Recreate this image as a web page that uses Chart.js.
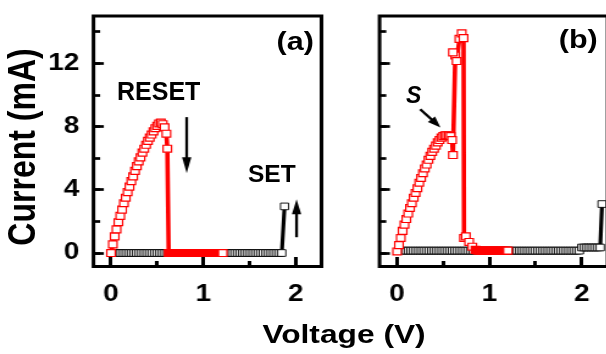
<!DOCTYPE html>
<html><head><meta charset="utf-8">
<script src="https://cdn.jsdelivr.net/npm/chart.js@4.4.1/dist/chart.umd.min.js"></script>
<style>
html,body{margin:0;padding:0;width:606px;height:354px;overflow:hidden;background:#fff;}
#stage{position:absolute;left:0;top:0;width:520px;height:354px;transform:scaleX(1.22);transform-origin:0 0;}
#ca{position:absolute;left:0;top:0;}
#cb{position:absolute;left:302px;top:0;}
.t{position:absolute;font-family:"Liberation Sans",Arial,sans-serif;font-weight:bold;color:#000;white-space:nowrap;line-height:1;}
#ytitle{font-size:32px;width:240px;height:32px;left:-102px;top:131px;text-align:center;transform:rotate(-90deg);transform-origin:50% 50%;}
#xtitle{font-size:26px;width:200px;left:182px;top:321px;text-align:center;}
#la{font-size:25px;width:60px;left:212px;top:29px;text-align:center;}
#lb{font-size:25px;width:60px;left:444px;top:27px;text-align:center;}
#reset{font-size:25px;left:117px;top:79px;}
#set{font-size:24.5px;left:248px;top:162px;}
#s{font-size:23px;font-style:italic;left:406px;top:84px;}
</style></head>
<body>
<div id="stage">
  <canvas id="ca" width="272" height="354"></canvas>
  <canvas id="cb" width="210" height="354"></canvas>
  <div class="t" id="ytitle">Current (mA)</div>
  <div class="t" id="xtitle">Voltage (V)</div>
  <div class="t" id="la">(a)</div>
  <div class="t" id="lb">(b)</div>
</div>
<div class="t" id="reset">RESET</div>
<div class="t" id="set">SET</div>
<div class="t" id="s">S</div>
<script>
// ---------------- data (Voltage in V, Current in mA) ----------------
// Panel (a) — RESET sweep (red)
const resetV_a = [0.00,0.02,0.04,0.06,0.08,0.10,0.12,0.14,0.16,0.18,0.20,0.22,0.24,0.26,0.28,0.30,0.32,0.34,0.36,0.38,0.40,0.42,0.44,0.46,0.48,0.50,0.52,0.54,0.56,0.58,0.60,0.61,0.625,0.65,0.675,0.70,0.725,0.75,0.775,0.80,0.825,0.85,0.875,0.90,0.925,0.95,0.975,1.00,1.025,1.05,1.075,1.10,1.125,1.15,1.175,1.21];
const resetI_a = [0.00,0.55,1.05,1.50,1.95,2.35,2.75,3.15,3.50,3.85,4.20,4.55,4.85,5.20,5.50,5.80,6.05,6.35,6.60,6.85,7.10,7.30,7.50,7.70,7.90,8.05,8.20,8.25,8.15,7.95,7.55,6.60,0.00,0.00,0.00,0.00,0.00,0.00,0.00,0.00,0.00,0.00,0.00,0.00,0.00,0.00,0.00,0.00,0.00,0.00,0.00,0.00,0.00,0.00,0.00,0.00];
// Panel (a) — SET sweep (black)
const setV_a = [0.050,0.075,0.100,0.125,0.150,0.175,0.200,0.225,0.250,0.275,0.300,0.325,0.350,0.375,0.400,0.425,0.450,0.475,0.500,0.525,0.550,0.575,0.600,0.625,0.650,0.675,0.700,0.725,0.750,0.775,0.800,0.825,0.850,0.875,0.900,0.925,0.950,0.975,1.000,1.025,1.050,1.075,1.100,1.125,1.150,1.175,1.200,1.225,1.250,1.275,1.300,1.325,1.350,1.375,1.400,1.425,1.450,1.475,1.500,1.525,1.550,1.575,1.600,1.625,1.650,1.675,1.700,1.725,1.750,1.775,1.800,1.825,1.850,1.880];
const setI_a = [0,0,0,0,0,0,0,0,0,0,0,0,0,0,0,0,0,0,0,0,0,0,0,0,0,0,0,0,0,0,0,0,0,0,0,0,0,0,0,0,0,0,0,0,0,0,0,0,0,0,0,0,0,0,0,0,0,0,0,0,0,0,0,0,0,0,0,0,0,0,0,0,0,2.95];
// Panel (b) — RESET sweep (red)
const resetV_b = [0.00,0.02,0.04,0.06,0.08,0.10,0.12,0.14,0.16,0.18,0.20,0.22,0.24,0.26,0.28,0.30,0.32,0.34,0.36,0.38,0.40,0.42,0.44,0.46,0.48,0.50,0.52,0.54,0.56,0.58,0.595,0.605,0.63,0.605,0.645,0.675,0.70,0.72,0.725,0.745,0.78,0.815,0.85,0.875,0.90,0.925,0.95,0.975,1.00,1.025,1.05,1.075,1.10,1.125,1.15,1.175,1.20];
const resetI_b = [0.10,0.50,0.95,1.40,1.80,2.15,2.50,2.85,3.15,3.50,3.80,4.10,4.45,4.75,5.05,5.35,5.60,5.90,6.15,6.40,6.60,6.80,7.00,7.15,7.30,7.40,7.45,7.45,7.45,7.40,7.15,6.20,12.50,12.70,12.15,13.55,13.90,13.60,0.95,1.05,0.70,0.40,0.20,0.15,0.15,0.15,0.15,0.15,0.15,0.15,0.15,0.15,0.15,0.15,0.15,0.15,0.15];
// Panel (b) — SET sweep (black)
const setV_b = [0.050,0.075,0.100,0.125,0.150,0.175,0.200,0.225,0.250,0.275,0.300,0.325,0.350,0.375,0.400,0.425,0.450,0.475,0.500,0.525,0.550,0.575,0.600,0.625,0.650,0.675,0.700,0.725,0.750,0.775,0.800,0.825,0.850,0.875,0.900,0.925,0.950,0.975,1.000,1.025,1.050,1.075,1.100,1.125,1.150,1.175,1.200,1.225,1.250,1.275,1.300,1.325,1.350,1.375,1.400,1.425,1.450,1.475,1.500,1.525,1.550,1.575,1.600,1.625,1.650,1.675,1.700,1.725,1.750,1.775,1.800,1.825,1.850,1.875,1.900,1.925,1.950,1.975,2.000,2.025,2.050,2.075,2.100,2.125,2.150,2.175,2.200,2.220];
const setI_b = [0.15,0.15,0.15,0.15,0.15,0.15,0.15,0.15,0.15,0.15,0.15,0.15,0.15,0.15,0.15,0.15,0.15,0.15,0.15,0.15,0.15,0.15,0.15,0.15,0.15,0.15,0.15,0.15,0.15,0.15,0.15,0.15,0.15,0.15,0.15,0.15,0.15,0.15,0.15,0.15,0.15,0.15,0.15,0.15,0.15,0.15,0.15,0.15,0.15,0.15,0.15,0.15,0.15,0.15,0.15,0.15,0.15,0.15,0.15,0.15,0.15,0.15,0.15,0.15,0.15,0.15,0.15,0.15,0.15,0.15,0.15,0.15,0.15,0.15,0.15,0.15,0.15,0.15,0.35,0.35,0.35,0.35,0.35,0.35,0.35,0.35,0.35,3.10];
// Axis ranges / ticks
const xRange = [-0.19, 2.28];
const yRange = [-0.853, 15.0];
const xMajorStep = 1, xMinorStep = 0.5;
const yMajorStep = 4, yMinorStep = 2;

// ---------------- helpers ----------------
const RED = '#ff0000', BLK = '#000000';
const FONT = '"Liberation Sans", Arial, sans-serif';
Chart.defaults.font.family = FONT;
const pts = (xs, ys) => xs.map((v, i) => ({x: v, y: ys[i]}));

const framePlugin = {
  id: 'frame',
  afterDatasetsDraw(chart) {
    const {ctx, chartArea: a} = chart;
    ctx.save();
    ctx.lineWidth = 3; ctx.strokeStyle = BLK;
    ctx.strokeRect(a.left, a.top, a.right - a.left, a.bottom - a.top);
    ctx.restore();
  }
};
const arrowPlugin = {
  id: 'arrows',
  afterDatasetsDraw(chart, args, opts) {
    const {ctx} = chart; const xs = chart.scales.x, ys = chart.scales.y;
    (opts.list || []).forEach(a => {
      const x1 = xs.getPixelForValue(a.from[0]), y1 = ys.getPixelForValue(a.from[1]);
      const x2 = xs.getPixelForValue(a.to[0]), y2 = ys.getPixelForValue(a.to[1]);
      const ang = Math.atan2(y2 - y1, x2 - x1);
      const L = a.head, W = a.half;
      const bx = x2 - L * Math.cos(ang), by = y2 - L * Math.sin(ang);
      ctx.save();
      ctx.strokeStyle = BLK; ctx.fillStyle = BLK; ctx.lineWidth = a.lw;
      ctx.beginPath(); ctx.moveTo(x1, y1); ctx.lineTo(bx + 2 * Math.cos(ang), by + 2 * Math.sin(ang)); ctx.stroke();
      ctx.beginPath(); ctx.moveTo(x2, y2);
      ctx.lineTo(bx + W * Math.sin(ang), by - W * Math.cos(ang));
      ctx.lineTo(bx - W * Math.sin(ang), by + W * Math.cos(ang));
      ctx.closePath(); ctx.fill();
      ctx.restore();
    });
  }
};

function redFill(ctx) {
  const r = ctx.raw;
  if (!r) return '#fff';
  const last = ctx.dataIndex === ctx.dataset.data.length - 1;
  return (r.y < 0.3 && r.x > 0.6 && !last) ? RED : '#fff';
}

function fitX(h) { return s => { s.height = h; s.paddingLeft = 0; s.paddingRight = 0; }; }
function fitY(w) { return s => { s.width = w; s.paddingTop = 0; s.paddingBottom = 0; }; }

function makeScales(showLabels, yWidth) {
  const tickFont = {family: FONT, size: 23, weight: 'bold'};
  return {
    x: {
      type: 'linear', position: 'bottom', min: xRange[0], max: xRange[1], weight: 1,
      ticks: {stepSize: xMajorStep, includeBounds: false, autoSkip: false, padding: 24, color: BLK, font: tickFont},
      grid: {drawOnChartArea: false, drawTicks: true, tickLength: -9.5, tickWidth: 3, tickColor: BLK},
      border: {display: false},
      afterFit: fitX(87.5)
    },
    x2: {
      type: 'linear', position: 'bottom', min: xRange[0], max: xRange[1], weight: 0,
      ticks: {stepSize: xMinorStep, includeBounds: false, display: false},
      grid: {drawOnChartArea: false, drawTicks: true, tickLength: -5.5, tickWidth: 3, tickColor: BLK},
      border: {display: false},
      afterFit: fitX(0)
    },
    y: {
      type: 'linear', position: 'left', min: yRange[0], max: yRange[1], weight: 1,
      ticks: {stepSize: yMajorStep, includeBounds: false, autoSkip: false, display: showLabels, padding: 20, color: BLK, font: tickFont},
      grid: {drawOnChartArea: false, drawTicks: true, tickLength: -8.5, tickWidth: 2.7, tickColor: BLK},
      border: {display: false},
      afterFit: fitY(yWidth)
    },
    y2: {
      type: 'linear', position: 'left', min: yRange[0], max: yRange[1], weight: 0,
      ticks: {stepSize: yMinorStep, includeBounds: false, display: false},
      grid: {drawOnChartArea: false, drawTicks: true, tickLength: -5.5, tickWidth: 2.7, tickColor: BLK},
      border: {display: false},
      afterFit: fitY(0)
    }
  };
}

function datasets(rv, ri, sv, si) {
  return [
    {label: 'RESET', data: pts(rv, ri), showLine: true, borderColor: RED, borderWidth: 3.6,
     borderJoinStyle: 'round', borderCapStyle: 'round',
     pointStyle: 'rect', pointRadius: 4.9, pointBorderColor: RED, pointBorderWidth: 1.2,
     pointBackgroundColor: redFill, tension: 0},
    {label: 'SET', data: pts(sv, si), showLine: true, borderColor: BLK, borderWidth: 3.2,
     borderJoinStyle: 'round',
     pointStyle: 'rect', pointRadius: 4.7, pointBorderColor: BLK, pointBorderWidth: 0.9,
     pointBackgroundColor: '#fff', tension: 0}
  ];
}

const baseOpts = {responsive: false, animation: false, devicePixelRatio: 1, events: []};

new Chart(document.getElementById('ca'), {
  type: 'scatter',
  data: {datasets: datasets(resetV_a, resetI_a, setV_a, setI_a)},
  options: Object.assign({}, baseOpts, {
    layout: {padding: {top: 16, right: 8.5, left: 0, bottom: 0}},
    plugins: {
      legend: {display: false}, tooltip: {enabled: false},
      arrows: {list: [
        {from: [0.82, 8.6], to: [0.82, 5.05], head: 16, half: 3.8, lw: 2.3},
        {from: [2.01, 1.0], to: [2.01, 3.4], head: 15, half: 3.8, lw: 2.3}
      ]}
    },
    scales: makeScales(true, 76.6)
  }),
  plugins: [framePlugin, arrowPlugin]
});

new Chart(document.getElementById('cb'), {
  type: 'scatter',
  data: {datasets: datasets(resetV_b, resetI_b, setV_b, setI_b)},
  options: Object.assign({}, baseOpts, {
    layout: {padding: {top: 16, right: 14, left: 9.1, bottom: 0}},
    plugins: {
      legend: {display: false}, tooltip: {enabled: false},
      arrows: {list: [
        {from: [0.25, 9.1], to: [0.47, 7.95], head: 11, half: 4, lw: 2.3}
      ]}
    },
    scales: makeScales(false, 0)
  }),
  plugins: [framePlugin, arrowPlugin]
});
</script>
</body></html>
